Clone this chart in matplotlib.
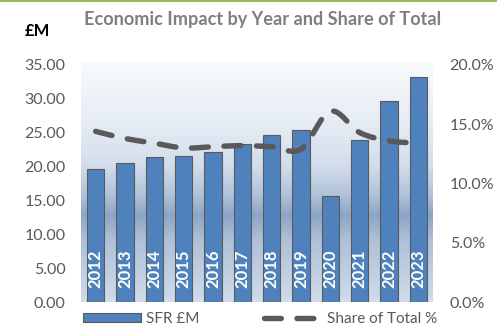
import numpy as np
import matplotlib
matplotlib.use("Agg")
import matplotlib.pyplot as plt
from matplotlib.colors import LinearSegmentedColormap
from matplotlib.path import Path
from matplotlib.patches import PathPatch, Patch
from matplotlib.lines import Line2D

# Economic impact per year (£M) and share of total
years = ["2012", "2013", "2014", "2015", "2016", "2017",
         "2018", "2019", "2020", "2021", "2022", "2023"]
sfr_m = [19.6, 20.6, 21.4, 21.6, 22.2, 23.3, 24.7, 25.4, 15.7, 23.9, 29.7, 33.3]
share_pct = [0.144, 0.138, 0.134, 0.130, 0.131, 0.132,
             0.131, 0.129, 0.161, 0.143, 0.136, 0.134]
left_ticks = [0, 5, 10, 15, 20, 25, 30, 35]
right_ticks = [0.0, 0.05, 0.10, 0.15, 0.20]

plt.rcParams["font.family"] = ["Lato", "DejaVu Sans"]
TXT = "#595959"
DASH = (0, (3.1, 2.9))

W, H = 497, 328
fig = plt.figure(figsize=(W / 100, H / 100), dpi=100)
ax = fig.add_axes([81 / W, (H - 302) / H, (433 - 81) / W, (302 - 62) / H])

# plot-area gradient fill
bg = LinearSegmentedColormap.from_list("bg", [
    (0.00, "#D0DCEB"), (0.26, "#AEC0D8"), (0.36, "#8CA5C6"),
    (0.45, "#B1C3DA"), (0.57, "#D3DDEB"), (0.76, "#E7EDF5"), (1.00, "#F9FBFD")])
grad = np.linspace(0, 1, 256).reshape(-1, 1)
ax.imshow(grad, cmap=bg, aspect="auto", origin="lower", extent=[0, 1, 0, 1],
          transform=ax.transAxes, zorder=0)

x = np.arange(len(years))
ax.bar(x, sfr_m, width=0.6, color="#4F81BD", edgecolor="#5A5A5A", linewidth=0.8, zorder=2)
for xi, yr in zip(x, years):
    ax.text(xi, 2.1, yr, rotation=90, ha="center", va="bottom", color="white",
            fontsize=12, fontweight="bold", zorder=3)

ymax = 35 * 240 / 237
ax.set_xlim(-0.5, len(years) - 0.5)
ax.set_ylim(0, ymax)
ax.set_yticks(left_ticks)
ax.set_yticklabels([f"{v:.2f}" for v in left_ticks])
ax.set_xticks([])
ax.tick_params(axis="y", length=0, pad=11, labelsize=11.5, labelcolor=TXT)
for s in ax.spines.values():
    s.set_visible(False)

ax2 = ax.twinx()
ax2.set_ylim(0, 0.2 * 240 / 237)
ax2.set_yticks(right_ticks)
ax2.set_yticklabels([f"{v * 100:.1f}%" for v in right_ticks])
ax2.tick_params(axis="y", length=0, pad=12, labelsize=11.5, labelcolor=TXT)
for s in ax2.spines.values():
    s.set_visible(False)

# smoothed share line (Catmull-Rom segments as cubic Beziers)
pts = np.column_stack([x, share_pct])
verts = [tuple(pts[0])]
codes = [Path.MOVETO]
for i in range(len(pts) - 1):
    p0 = pts[max(i - 1, 0)]
    p1 = pts[i]
    p2 = pts[i + 1]
    p3 = pts[min(i + 2, len(pts) - 1)]
    c1 = p1 + (p2 - p0) / 6
    c2 = p2 - (p3 - p1) / 6
    verts += [tuple(c1), tuple(c2), tuple(p2)]
    codes += [Path.CURVE4] * 3
line = PathPatch(Path(verts, codes), fill=False, edgecolor="#595959", linewidth=3.9,
                 linestyle=DASH, capstyle="round", zorder=4)
ax2.add_patch(line)

fig.text(263 / W, 1 - 20 / H, "Economic Impact by Year and Share of Total",
         ha="center", va="center", fontsize=13.1, fontweight="bold", color="#7F7F7F")
fig.text(25 / W, 1 - 31 / H, "£M", ha="left", va="center", fontsize=12,
         fontweight="bold", color="black")

# green border along the top edge
fig.add_artist(Line2D([0, 1], [1 - 0.8 / H, 1 - 0.8 / H], color="#9BBB59", linewidth=1.5))

handles = [Patch(facecolor="#4F81BD", edgecolor="#5A5A5A", linewidth=0.8),
           Line2D([], [], color="#595959", linewidth=3.9, linestyle=DASH,
                  dash_capstyle="round")]
fig.legend(handles, ["SFR £M", "Share of Total %"], loc="center left",
           bbox_to_anchor=(83 / W, 1 - 319 / H), ncol=2, frameon=False,
           fontsize=11, labelcolor=TXT, borderpad=0, borderaxespad=0,
           handlelength=3.8, handleheight=0.5, handletextpad=0.35, columnspacing=4.2)

fig.savefig("out.png", dpi=100)
